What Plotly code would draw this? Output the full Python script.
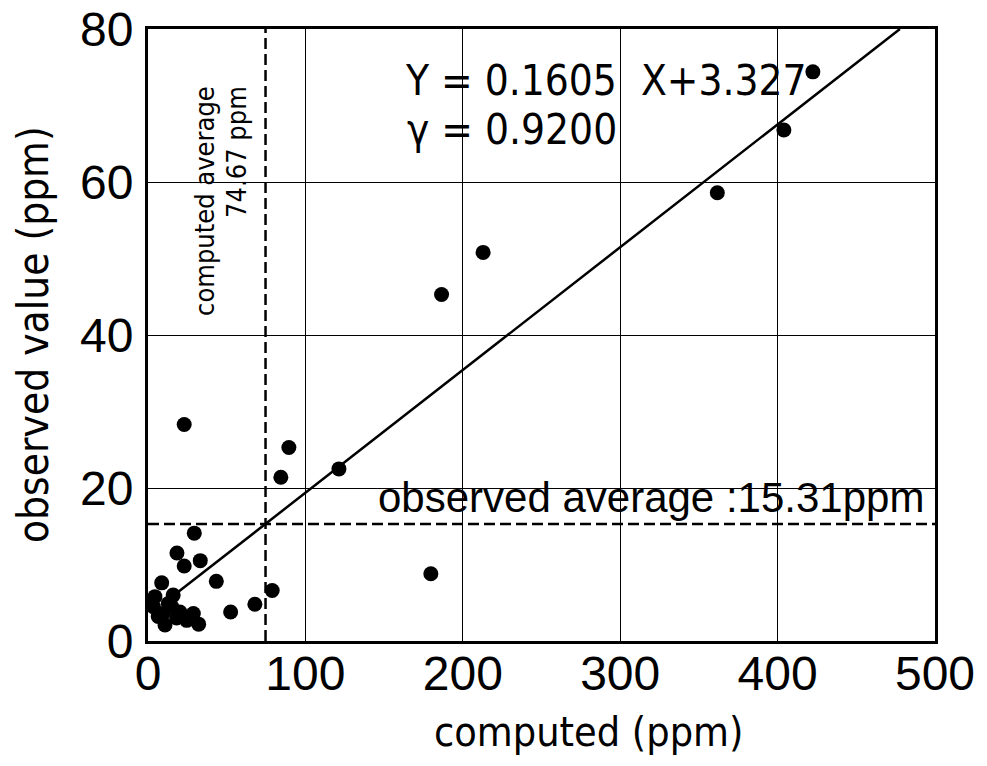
import plotly.graph_objects as go

# --- data ---
computed = [422.4, 404.0, 361.7, 212.9, 186.5, 179.7, 121.3, 89.5, 84.4, 23.0,
            29.4, 18.4, 33.2, 23.0, 43.4, 8.7, 78.9, 67.9, 52.5, 32.2,
            4.4, 3.4, 6.5, 10.8, 16.0, 15.0, 18.2, 24.6, 28.8, 12.9, 9.7, 20.3, 1.5]
observed = [74.4, 66.8, 58.6, 50.8, 45.3, 8.8, 22.5, 25.3, 21.4, 28.3,
            14.1, 11.5, 10.5, 9.8, 7.8, 7.6, 6.6, 4.8, 3.8, 2.2,
            5.8, 4.5, 3.2, 2.1, 6.0, 4.5, 3.0, 2.7, 3.6, 4.9, 3.6, 3.8, 5.0]
slope = 0.1605
intercept = 3.327
corr = 0.9200
computed_avg = 74.67
observed_avg = 15.31
x_ticks = [0, 100, 200, 300, 400, 500]
y_ticks = [0, 20, 40, 60, 80]
x_range = [0, 500]
y_range = [0, 80]
fit_x = [14, (y_range[1] - intercept) / slope]
fit_y = [slope * v + intercept for v in fit_x]

NARROW = "DejaVu Sans Condensed, Liberation Sans Narrow, sans-serif"
SANS = "Liberation Sans, Arial, sans-serif"

fig = go.Figure()
fig.add_trace(go.Scatter(x=[computed_avg, computed_avg], y=y_range, mode="lines",
                         line=dict(color="black", width=2.5, dash="11px,5px"), hoverinfo="skip"))
fig.add_trace(go.Scatter(x=x_range, y=[observed_avg, observed_avg], mode="lines",
                         line=dict(color="black", width=2.5, dash="11px,5px"), hoverinfo="skip"))
fig.add_trace(go.Scatter(x=fit_x, y=fit_y, mode="lines",
                         line=dict(color="black", width=2.5), hoverinfo="skip"))
fig.add_trace(go.Scatter(x=computed, y=observed, mode="markers",
                         marker=dict(color="black", size=15, line=dict(width=0))))

W, H = 987, 766
L, R, T, B = 148, 52, 29, 125

fig.update_layout(
    width=W, height=H, showlegend=False,
    margin=dict(l=L, r=R, t=T, b=B, pad=0, autoexpand=False),
    paper_bgcolor="white", plot_bgcolor="white",
    font=dict(family=SANS, color="black"),
    xaxis=dict(range=x_range, tickvals=x_ticks, showgrid=True, gridcolor="black", gridwidth=1.3,
               showline=True, linecolor="black", linewidth=3, mirror=True, zeroline=False,
               automargin=False,
               ticks="", tickfont=dict(size=48, family=SANS), ticklabelstandoff=-12),
    yaxis=dict(range=y_range, tickvals=y_ticks, showgrid=True, gridcolor="black", gridwidth=1.3,
               showline=True, linecolor="black", linewidth=3, mirror=True, zeroline=False,
               automargin=False,
               ticks="", tickfont=dict(size=48, family=SANS), ticklabelstandoff=2),
)

pw, ph = W - L - R, H - T - B
ann = []
# axis titles
ann.append(dict(text="observed value (ppm)", xref="paper", yref="paper",
                x=(33 - L) / pw, y=0.5, textangle=-90, showarrow=False,
                font=dict(size=42, family=NARROW), xanchor="center", yanchor="middle"))
ann.append(dict(text="computed (ppm)", xref="paper", yref="paper",
                x=(588 - L) / pw, y=-(732 - (T + ph)) / ph, showarrow=False,
                font=dict(size=41, family=NARROW), xanchor="center", yanchor="middle"))
# equation
ann.append(dict(text="Y = 0.1605\u00a0\u00a0X+3.327", x=(403 - L) / 1.575, y=(641 - 80) / 7.65,
                xref="x", yref="y", showarrow=False, xanchor="left", yanchor="middle",
                font=dict(size=42, family=NARROW)))
ann.append(dict(text="\u03b3 = 0.9200", x=(405 - L) / 1.575, y=(641 - 129) / 7.65,
                xref="x", yref="y", showarrow=False, xanchor="left", yanchor="middle",
                font=dict(size=42, family=NARROW)))
# rotated average labels
ann.append(dict(text="computed average", x=(204 - L) / 1.575, y=(641 - 84) / 7.65,
                xref="x", yref="y", showarrow=False, textangle=-90, xanchor="center", yanchor="top",
                font=dict(size=27, family=NARROW)))
ann.append(dict(text="74.67 ppm", x=(236 - L) / 1.575, y=(641 - 84) / 7.65,
                xref="x", yref="y", showarrow=False, textangle=-90, xanchor="center", yanchor="top",
                font=dict(size=27, family=NARROW)))
ann.append(dict(text="observed average :15.31ppm", x=(376 - L) / 1.575, y=(641 - 497) / 7.65,
                xref="x", yref="y", showarrow=False, xanchor="left", yanchor="middle",
                font=dict(size=42, family=SANS)))
fig.update_layout(annotations=ann)

fig.write_html("out.html")
